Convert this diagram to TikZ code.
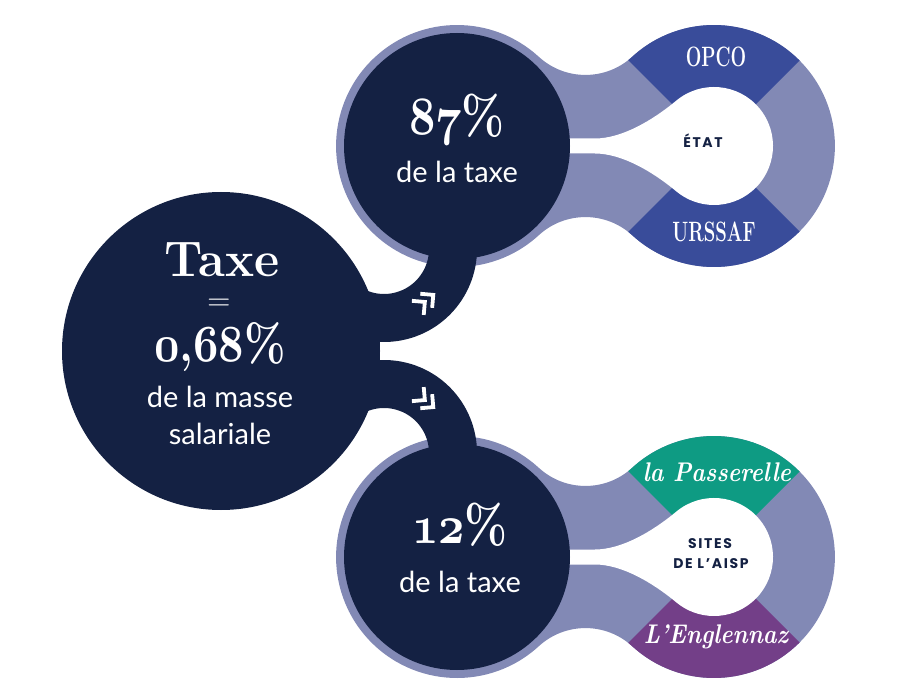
\documentclass[tikz,border=0pt]{standalone}
\usepackage{fontspec}
\usepackage{graphicx}
\usetikzlibrary{calc}
\newfontfamily\sansf{Lato}
\newfontfamily\popf{Poppins}
\DeclareFontFamily{OML}{xcmm}{}
\DeclareFontShape{OML}{xcmm}{b}{it}{<->cmmib10}{}
\newcommand\osn[1]{{\usefont{OML}{xcmm}{b}{it}#1}}
\newcommand\heavy[1]{\bfseries\addfontfeatures{FakeBold=#1}}
\definecolor{cNavy}{HTML}{142143}
\definecolor{cLav}{HTML}{8289B5}
\definecolor{cBlue}{HTML}{394C9A}
\definecolor{cTeal}{HTML}{0E9B83}
\definecolor{cPurp}{HTML}{733F88}
\begin{document}
\begin{tikzpicture}[x=1pt,y=-1pt,
  lavpath/.style={insert path={(538.8,{#1-89.2}) arc[start angle=132.5,end angle=47.5,radius=69.1] arc[start angle=-132.5,end angle=132.5,radius=121] arc[start angle=-47.5,end angle=-132.5,radius=69.1] arc[start angle=47.5,end angle=312.5,radius=121] -- cycle}},
  holepath/.style={insert path={(560,{#1-7.5}) -- (595,{#1-7.5}) .. controls (622,{#1-7.5}) and (653,{#1-26}) .. (676.08,{#1-45.2}) arc[start angle=-130,end angle=130,radius=59] .. controls (653,{#1+26}) and (622,{#1+7.5}) .. (595,{#1+7.5}) -- (560,{#1+7.5}) -- cycle}},
  chev/.style={draw=white, line width=3.8pt, line cap=butt, line join=miter},
  arm/.style={draw=cNavy, line width=48pt, line cap=butt},
  didone/.style={text=white, inner sep=0pt},
  soft/.style={text=white, inner sep=0pt, font=\fontsize{29}{29}\selectfont\sansf},
  seclab/.style={text=white, inner sep=0pt},
  holelab/.style={text=cNavy, inner sep=0pt, font=\fontsize{14}{14}\selectfont\popf\bfseries\addfontfeatures{LetterSpace=12}},
]
\useasboundingbox (0,0) rectangle (900,700);

% ---------- top group (ETAT) ----------
\fill[cLav, lavpath=146];
\begin{scope}
  \path[clip, lavpath=146];
  \fill[cBlue] (714,146) -- (514,-54) -- (914,-54) -- cycle;
  \fill[cBlue] (714,146) -- (514,346) -- (914,346) -- cycle;
\end{scope}
\fill[white, holepath=146];

% ---------- bottom group (AISP) ----------
\fill[cLav, lavpath=557];
\begin{scope}
  \path[clip, lavpath=557];
  \fill[cTeal] (714,557) -- (514,357) -- (914,357) -- cycle;
  \fill[cPurp] (714,557) -- (514,757) -- (914,757) -- cycle;
\end{scope}
\fill[white, holepath=557];

% ---------- dark shapes ----------
\fill[cNavy] (221,351) circle[radius=159];
\fill[cNavy] (457,146) circle[radius=113];
\fill[cNavy] (457,557) circle[radius=113];
\coordinate (armA) at (384,249);
\coordinate (armB) at (384,453);
\draw[arm] ($(armA)+(-20:69)$) arc[start angle=-20,end angle=118,radius=69];
\draw[arm] ($(armB)+(20:69)$) arc[start angle=20,end angle=-118,radius=69];

% ---------- chevrons ----------
\coordinate (cA1) at ($(426,301)+(-40:-1.5)$);
\coordinate (cA2) at ($(426,301)+(-40:9.5)$);
\coordinate (cB1) at ($(426,401)+(40:-1.5)$);
\coordinate (cB2) at ($(426,401)+(40:9.5)$);
\draw[chev] ($(cA1)+(95:13)$) -- (cA1) -- ($(cA1)+(-175:13)$);
\draw[chev] ($(cA2)+(95:13)$) -- (cA2) -- ($(cA2)+(-175:13)$);
\draw[chev] ($(cB1)+(-95:13)$) -- (cB1) -- ($(cB1)+(175:13)$);
\draw[chev] ($(cB2)+(-95:13)$) -- (cB2) -- ($(cB2)+(175:13)$);

% ---------- texts ----------
\node[didone, anchor=base] (taxe) at (222,277) {\fontsize{50}{50}\selectfont\heavy{2.5}\scalebox{0.98}[1]{Taxe}};
\node[didone, anchor=base] (eq) at (219,311) {\fontsize{32}{32}\selectfont =};
\node[didone, anchor=base] (rate) at (220,362) {\fontsize{52}{52}\selectfont\heavy{4}\scalebox{0.85}[1]{\osn{0},\osn{68}\%}};
\node[soft, anchor=base] (masse) at (220,408) {de la masse};
\node[soft, anchor=base] (sal) at (220,445) {salariale};

\node[didone, anchor=base] (p87) at (457,135) {\fontsize{54}{54}\selectfont\heavy{4}\scalebox{0.85}[1]{\osn{87}\%}};
\node[soft, anchor=base] (t87) at (457,183) {de la taxe};
\node[didone, anchor=base] (p12) at (460,543) {\fontsize{54}{54}\selectfont\heavy{4}\scalebox{0.85}[1]{\osn{12}\%}};
\node[soft, anchor=base] (t12) at (460,592) {de la taxe};

\node[seclab, anchor=base] (opco) at (716,67) {\fontsize{28}{28}\selectfont\heavy{6}\scalebox{0.66}[1]{OPCO}};
\node[seclab, anchor=base] (urssaf) at (714,242) {\fontsize{28}{28}\selectfont\heavy{6}\scalebox{0.66}[1]{URSSAF}};
\node[holelab, anchor=base] (etat) at (703,148) {ÉTAT};

\node[seclab, anchor=base] (pass) at (717,482) {\fontsize{27}{27}\selectfont\heavy{4}\itshape\scalebox{0.86}[1]{la Passerelle}};
\node[seclab, anchor=base] (engl) at (716,643) {\fontsize{27}{27}\selectfont\heavy{4}\itshape\scalebox{0.86}[1]{L’Englennaz}};
\node[holelab, anchor=base] (sites) at (710,548) {SITES};
\node[holelab, anchor=base] (aisp) at (711,568) {DE L’AISP};
\end{tikzpicture}
\end{document}
